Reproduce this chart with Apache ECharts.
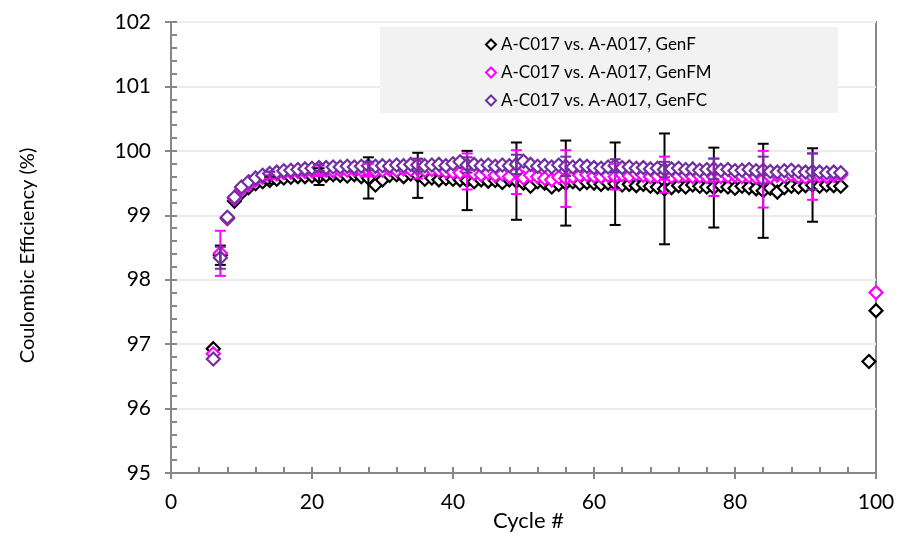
<!DOCTYPE html>
<html>
<head>
<meta charset="utf-8">
<script src="https://cdn.jsdelivr.net/npm/echarts@6/dist/echarts.min.js"></script>
<style>
html,body{margin:0;padding:0;background:#fff;}
#chart{width:899px;height:536px;}
</style>
</head>
<body>
<div id="chart"></div>
<script>
// ---------------- data ----------------
const seriesNames = ['A-C017 vs. A-A017, GenF', 'A-C017 vs. A-A017, GenFM', 'A-C017 vs. A-A017, GenFC'];

const cycles = [6,7,8,9,10,11,12,13,14,15,16,17,18,19,20,21,22,23,24,25,26,27,28,29,30,31,32,33,34,35,36,37,38,39,40,
  41,42,43,44,45,46,47,48,49,50,51,52,53,54,55,56,57,58,59,60,61,62,63,64,65,66,67,68,69,70,
  71,72,73,74,75,76,77,78,79,80,81,82,83,84,85,86,87,88,89,90,91,92,93,94,95];

const genF = [96.93,98.38,98.95,99.22,99.35,99.43,99.49,99.52,99.54,99.56,99.58,99.59,99.60,99.60,99.61,99.60,99.62,99.63,99.62,99.61,
  99.63,99.60,99.58,99.47,99.55,99.62,99.63,99.60,99.64,99.62,99.56,99.58,99.55,99.57,99.56,
  99.55,99.54,99.52,99.55,99.53,99.54,99.51,99.55,99.53,99.50,99.45,99.52,99.50,99.44,99.48,99.50,99.52,99.49,99.51,99.50,
  99.48,99.50,99.49,99.47,99.48,99.46,99.48,99.45,99.44,99.41,99.43,99.46,99.44,99.47,99.45,99.44,99.43,99.46,99.44,99.42,
  99.45,99.43,99.41,99.38,99.42,99.36,99.43,99.45,99.44,99.46,99.47,99.45,99.47,99.46,99.45];

const genFM = [96.85,98.41,98.96,99.26,99.40,99.48,99.55,99.59,99.62,99.64,99.66,99.67,99.68,99.68,99.69,99.69,99.70,99.69,99.70,99.70,
  99.71,99.70,99.70,99.69,99.70,99.71,99.70,99.72,99.71,99.72,99.70,99.71,99.70,99.68,99.67,
  99.66,99.68,99.65,99.63,99.66,99.62,99.64,99.60,99.67,99.58,99.62,99.60,99.57,99.55,99.59,99.57,99.60,99.62,99.63,99.61,
  99.60,99.62,99.60,99.63,99.61,99.64,99.62,99.60,99.61,99.63,99.60,99.61,99.62,99.60,99.61,99.60,99.59,99.60,99.61,99.62,
  99.60,99.61,99.59,99.56,99.60,99.62,99.61,99.63,99.60,99.59,99.60,99.61,99.60,99.62,99.63];

const genFC = [96.77,98.34,98.97,99.28,99.44,99.52,99.58,99.62,99.65,99.67,99.69,99.70,99.71,99.72,99.73,99.74,99.74,99.75,99.75,99.76,
  99.75,99.76,99.77,99.76,99.77,99.76,99.78,99.77,99.79,99.78,99.77,99.78,99.79,99.77,99.80,
  99.83,99.78,99.79,99.77,99.78,99.76,99.78,99.77,99.79,99.84,99.79,99.76,99.77,99.75,99.78,99.76,99.75,99.77,99.76,99.74,
  99.73,99.75,99.77,99.74,99.75,99.73,99.74,99.72,99.73,99.71,99.72,99.73,99.71,99.72,99.70,99.71,99.72,99.70,99.71,99.69,
  99.70,99.71,99.69,99.70,99.68,99.67,99.69,99.70,99.68,99.67,99.68,99.67,99.66,99.67,99.66];

// extra late points
const genFExtraCycles = [99, 100];
const genFExtra = [96.73, 97.52];
const genFMExtraCycles = [100];
const genFMExtra = [97.80];

// error bars (+/-) at every 7th cycle
const errCycles = [7,14,21,28,35,42,49,56,63,70,77,84,91];
const genFErr  = [0.15,0.05,0.13,0.32,0.35,0.46,0.60,0.66,0.64,0.86,0.62,0.73,0.57];
const genFMErr = [0.35,0.05,0.08,0.10,0.15,0.28,0.34,0.44,0.20,0.28,0.29,0.44,0.36];
const genFCErr = [0.17,0.03,0.05,0.06,0.10,0.12,0.15,0.15,0.10,0.12,0.16,0.21,0.28];

const xTicks = [0,20,40,60,80,100];
const yTicks = [95,96,97,98,99,100,101,102];

// ---------------- build ----------------
const colors = ['#000000', '#ff00ff', '#7030a0'];
const FONT = 'Lato';

function pts(xs, ys) { return xs.map((x, i) => [x, ys[i]]); }
function errPts(vals, err) {
  return errCycles.map((c, i) => {
    const v = vals[cycles.indexOf(c)];
    return [c, v - err[i], v + err[i]];
  });
}

function errSeries(vals, err, color) {
  return {
    type: 'custom',
    xAxisIndex: 0, yAxisIndex: 0,
    z: 5,
    silent: true,
    encode: { x: 0, y: [1, 2] },
    data: errPts(vals, err),
    renderItem: function (params, api) {
      const x = api.value(0);
      const lo = api.coord([x, api.value(1)]);
      const hi = api.coord([x, api.value(2)]);
      const cap = 5.5;
      const st = { stroke: color, lineWidth: 2 };
      return {
        type: 'group',
        children: [
          { type: 'line', shape: { x1: lo[0], y1: lo[1], x2: hi[0], y2: hi[1] }, style: st },
          { type: 'line', shape: { x1: lo[0] - cap, y1: lo[1], x2: lo[0] + cap, y2: lo[1] }, style: st },
          { type: 'line', shape: { x1: hi[0] - cap, y1: hi[1], x2: hi[0] + cap, y2: hi[1] }, style: st }
        ]
      };
    }
  };
}

function scatterSeries(name, data, color) {
  return {
    name: name,
    type: 'scatter',
    xAxisIndex: 0, yAxisIndex: 0,
    symbol: 'diamond',
    symbolSize: 13,
    itemStyle: { color: '#ffffff', borderColor: color, borderWidth: 2.2, opacity: 1 },
    emphasis: { disabled: true },
    data: data,
    z: 3
  };
}

const axisGray = '#878787';

const option = {
  animation: false,
  backgroundColor: '#ffffff',
  textStyle: { fontFamily: FONT },
  grid: {
    left: 171, right: 23, top: 22, bottom: 63,
    outerBoundsMode: 'none',
    containLabel: false,
    show: true, borderColor: axisGray, borderWidth: 2, backgroundColor: 'transparent'
  },
  graphic: [{
    type: 'rect', z: 1, silent: true,
    shape: { x: 380, y: 27, width: 458, height: 86 },
    style: { fill: '#f2f2f2' }
  }],
  legend: {
    orient: 'vertical',
    left: 480, top: 30,
    itemWidth: 10, itemHeight: 10,
    itemGap: 9,
    icon: 'diamond',
    selectedMode: false,
    textStyle: { fontFamily: FONT, fontSize: 17, color: '#000', lineHeight: 19 },
    data: seriesNames
  },
  xAxis: [{
    type: 'value', min: 0, max: 100, interval: 20,
    name: 'Cycle #', nameLocation: 'middle', nameGap: 37,
    nameMoveOverlap: false,
    nameTextStyle: { fontFamily: FONT, fontSize: 22, color: '#000', padding: [0, 0, 0, 10] },
    axisLine: { show: true, onZero: false, lineStyle: { color: axisGray, width: 2 } },
    axisTick: { show: true, inside: true, length: 6, lineStyle: { color: axisGray, width: 2 } },
    minorTick: { show: true, splitNumber: 5, length: 6, lineStyle: { color: axisGray, width: 2 } },
    axisLabel: { fontFamily: FONT, fontSize: 21, color: '#000', margin: 19,
      formatter: v => xTicks.includes(v) ? String(v) : '' },
    splitLine: { show: false }
  }, {
    type: 'value', min: 0, max: 100, interval: 20, position: 'bottom',
    axisLine: { show: false },
    axisTick: { show: true, inside: false, length: 6, lineStyle: { color: axisGray, width: 2 } },
    axisLabel: { show: false },
    splitLine: { show: false }
  }],
  yAxis: [{
    type: 'value', min: 95, max: 102, interval: 1,
    name: 'Coulombic Efficiency (%)', nameLocation: 'middle', nameGap: 133,
    nameTextStyle: { fontFamily: FONT, fontSize: 20, color: '#000', padding: [0, 16, 0, 0] },
    axisLine: { show: true, onZero: false, lineStyle: { color: axisGray, width: 2 } },
    axisTick: { show: true, inside: true, length: 6, lineStyle: { color: axisGray, width: 2 } },
    minorTick: { show: true, splitNumber: 5, length: 6, lineStyle: { color: axisGray, width: 2 } },
    axisLabel: { fontFamily: FONT, fontSize: 21, color: '#000', margin: 20,
      formatter: v => yTicks.includes(v) ? String(v) : '' },
    splitLine: { show: true, lineStyle: { color: '#ececec', width: 2 } }
  }, {
    type: 'value', min: 95, max: 102, interval: 1, position: 'left',
    axisLine: { show: false },
    axisTick: { show: true, inside: false, length: 6, lineStyle: { color: axisGray, width: 2 } },
    axisLabel: { show: false },
    splitLine: { show: false }
  }],
  series: [
    scatterSeries(seriesNames[0], pts(cycles, genF).concat(pts(genFExtraCycles, genFExtra)), colors[0]),
    scatterSeries(seriesNames[1], pts(cycles, genFM).concat(pts(genFMExtraCycles, genFMExtra)), colors[1]),
    scatterSeries(seriesNames[2], pts(cycles, genFC), colors[2]),
    errSeries(genF, genFErr, colors[0]),
    errSeries(genFM, genFMErr, colors[1]),
    errSeries(genFC, genFCErr, colors[2])
  ]
};

const chart = echarts.init(document.getElementById('chart'), null, { renderer: 'canvas' });
chart.setOption(option);
</script>
</body>
</html>
